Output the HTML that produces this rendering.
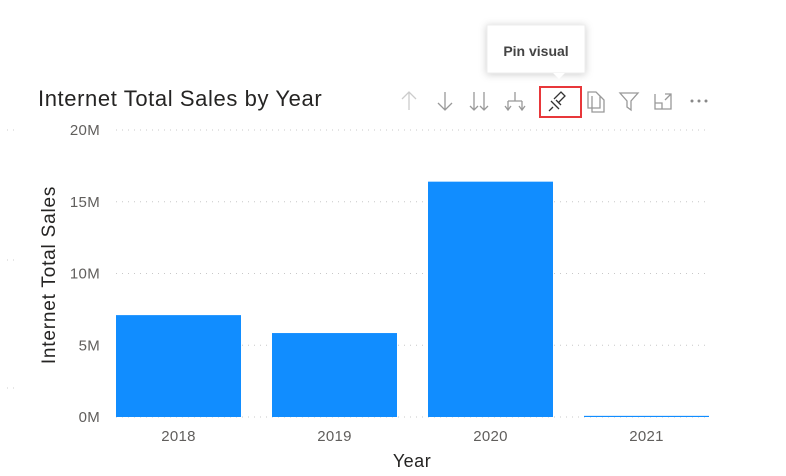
<!DOCTYPE html>
<html><head><meta charset="utf-8"><style>
body{margin:0;width:786px;height:476px;background:#fff;overflow:hidden;font-family:"Liberation Sans",sans-serif}
svg{position:absolute;left:0;top:0}
</style></head><body>
<svg width="786" height="476">
<text x="38" y="106" font-size="22" letter-spacing="0.6" fill="#252423">Internet Total Sales by Year</text>
<g>
<rect x="487" y="25" width="98" height="48" fill="#fff" stroke="#eee" style="filter:drop-shadow(0 1px 4px rgba(0,0,0,.2))"/>
<path d="M553 73 L559 79 L565 73Z" fill="#fff"/>
<text x="536" y="56" font-size="14" font-weight="bold" fill="#444" text-anchor="middle">Pin visual</text>
</g>
<g stroke="#999" fill="none" stroke-width="1.3">
<path d="M409 110V92M402 99l7-7 7 7" stroke="#ccc"/>
<path d="M445 92v18M438 103l7 7 7-7"/>
<path d="M474 92v18M470 106l4 4 4-4M484 92v18M480 106l4 4 4-4"/>
<path d="M515 92v9M508 101h14M508 101v9M522 101v9M505 106l3 4 3-4M519 106l3 4 3-4"/>
<rect x="540" y="87" width="41" height="30" stroke="#e8373a" stroke-width="2"/>
<path d="M553 107l-4 4M551 101l8 8M554 99l7-7 4 4-7 7M556 100l5 5" stroke="#333"/>
<path d="M588 92h8l4 4v12h-12z M592 96v16h12V100l-4-4"/>
<path d="M620 93h18l-7 8v9l-4 -3v-6z"/>
<path d="M655 94v15h16v-15h-6M665 100l6-6M667 94h4v4M655 103h7v6"/>
</g>
<g fill="#888"><circle cx="692" cy="101" r="1.5"/><circle cx="699" cy="101" r="1.5"/><circle cx="706" cy="101" r="1.5"/></g>
<g id="grid"></g>
<g id="yt"></g>
<g id="bars"></g>
<g id="xt"></g>
<text transform="translate(55,275) rotate(-90)" font-size="19" letter-spacing="0.8" fill="#252423" text-anchor="middle">Internet Total Sales</text>
<text x="412" y="467" font-size="18" letter-spacing="0.5" fill="#252423" text-anchor="middle">Year</text>
<g stroke="#ccc" stroke-dasharray="1 5">
<line x1="7" x2="18" y1="130" y2="130"/><line x1="7" x2="18" y1="260" y2="260"/><line x1="7" x2="18" y1="388" y2="388"/></g>
</svg>
<script>
const categories=["2018","2019","2020","2021"];
const sales=[7.1,5.85,16.4,0.08];
const yTicks=[0,5,10,15,20];
const yTickLabels=["0M","5M","10M","15M","20M"];
const NS="http://www.w3.org/2000/svg";
const y0=417,y1=130,yMax=20,xL=100.5,band=156;
const y=v=>y0-(v/yMax)*(y0-y1);
const x=i=>xL+i*band;
function mk(t,a,p){const e=document.createElementNS(NS,t);for(const k in a)e.setAttribute(k,a[k]);p.appendChild(e);return e;}
const g=document.getElementById('grid'),yt=document.getElementById('yt'),bars=document.getElementById('bars'),xt=document.getElementById('xt');
yTicks.forEach((v,i)=>{
 const l=mk('line',{x1:116,x2:708,y1:y(v),y2:y(v),stroke:'#c8c8c8','stroke-dasharray':'1 5'},g);
 
 
 const t=mk('text',{x:100,y:y(v)+5,'font-size':15,'letter-spacing':0.3,fill:'#605e5c','text-anchor':'end'},yt);
 t.textContent=yTickLabels[i];
 
 
});
categories.forEach((c,i)=>{
 const r=mk('rect',{x:x(i)+15.5,y:y(sales[i]),width:125,height:y0-y(sales[i]),fill:'#118dff'},bars);
 
 
 const t=mk('text',{x:x(i)+band/2,y:441,'font-size':15,'letter-spacing':0.3,fill:'#605e5c','text-anchor':'middle'},xt);
 t.textContent=c;
 
 
});
</script>
</body></html>
